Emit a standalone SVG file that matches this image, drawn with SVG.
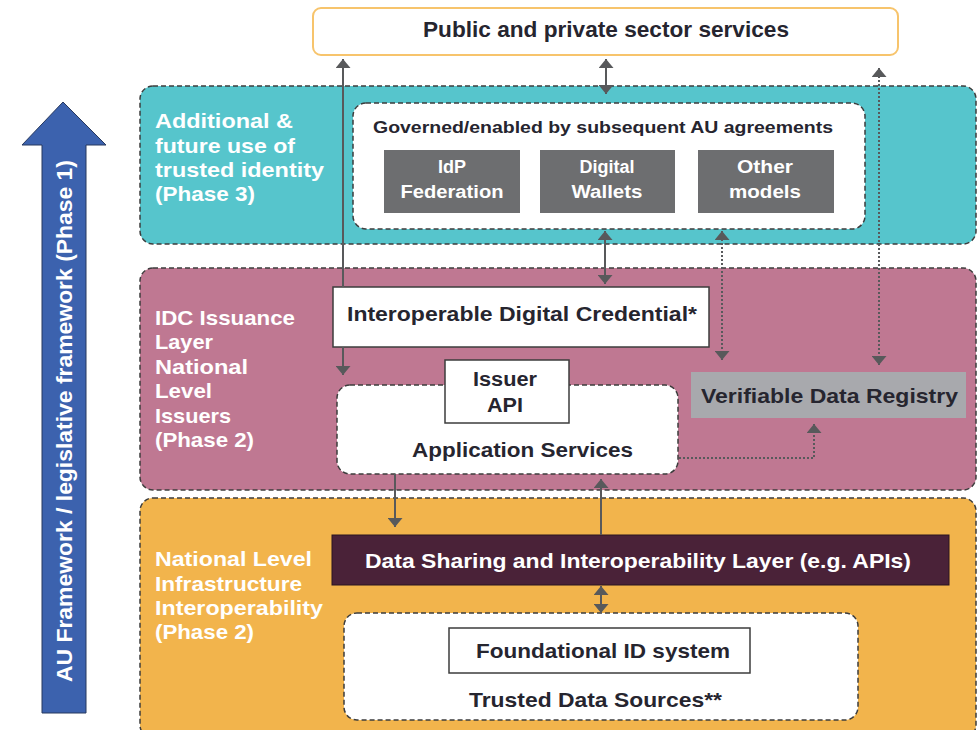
<svg xmlns="http://www.w3.org/2000/svg" width="977" height="730" viewBox="0 0 977 730">
<style>
text{font-family:"Liberation Sans",Arial,sans-serif;font-weight:bold}
.w{fill:#ffffff}
.d{fill:#26252f}
.layer{stroke:#3d3d3d;stroke-width:1.5;stroke-dasharray:5 3}
.inner{fill:#ffffff;stroke:#3d3d3d;stroke-width:1.5;stroke-dasharray:5 3}
.plain{fill:#ffffff;stroke:#3d3d3d;stroke-width:1.5}
.grey{fill:#6d6e70}
.c{stroke:#58595b;stroke-width:2;fill:none}
.dot{stroke:#58595b;stroke-width:2;fill:none;stroke-dasharray:2 2}
</style>
<defs>
<marker id="ah" markerUnits="userSpaceOnUse" markerWidth="9" markerHeight="15" viewBox="0 0 9 15" refX="9" refY="7.5" orient="auto-start-reverse">
<path d="M0,0 L9,7.5 L0,15 z" fill="#58595b"/>
</marker>
</defs>
<rect width="977" height="730" fill="#ffffff"/>

<g id="public-services">
<rect x="313" y="8" width="585" height="47" rx="8" fill="#ffffff" stroke="#f7c46c" stroke-width="2"/>
<text class="d" x="423" y="37" font-size="22" textLength="366" lengthAdjust="spacingAndGlyphs">Public and private sector services</text>
</g>

<g id="au-framework">
<polygon points="63,102 106,145 86,145 86,713 42,713 42,145 22,145" fill="#3c62ae" stroke="#27385e" stroke-width="1"/>
<text class="w" transform="translate(72,682) rotate(-90)" font-size="22" textLength="522" lengthAdjust="spacingAndGlyphs">AU Framework / legislative framework (Phase 1)</text>
</g>

<g id="phase3-layer">
<rect class="layer" x="140" y="86" width="836" height="158" rx="13" fill="#56c5cc"/>
<text class="w" font-size="21">
<tspan x="155" y="128" textLength="138" lengthAdjust="spacingAndGlyphs">Additional &amp;</tspan>
<tspan x="155" y="153" textLength="140" lengthAdjust="spacingAndGlyphs">future use of</tspan>
<tspan x="155" y="177" textLength="169" lengthAdjust="spacingAndGlyphs">trusted identity</tspan>
<tspan x="155" y="201" textLength="100" lengthAdjust="spacingAndGlyphs">(Phase 3)</tspan>
</text>
</g>

<g id="au-agreements">
<rect class="inner" x="353" y="103" width="512" height="126" rx="13"/>
<text class="d" x="373" y="133" font-size="16.5" textLength="460" lengthAdjust="spacingAndGlyphs">Governed/enabled by subsequent AU agreements</text>
</g>

<g id="idp-federation">
<rect class="grey" x="384" y="150" width="136" height="63"/>
<text class="w" font-size="18" text-anchor="middle"><tspan x="452" y="173">IdP</tspan><tspan x="452" y="198" textLength="103" lengthAdjust="spacingAndGlyphs">Federation</tspan></text>
</g>

<g id="digital-wallets">
<rect class="grey" x="540" y="150" width="135" height="63"/>
<text class="w" font-size="18" text-anchor="middle"><tspan x="607" y="173">Digital</tspan><tspan x="607" y="198" textLength="71" lengthAdjust="spacingAndGlyphs">Wallets</tspan></text>
</g>

<g id="other-models">
<rect class="grey" x="698" y="150" width="136" height="63"/>
<text class="w" font-size="18" text-anchor="middle"><tspan x="765" y="173" textLength="56" lengthAdjust="spacingAndGlyphs">Other</tspan><tspan x="765" y="198" textLength="72" lengthAdjust="spacingAndGlyphs">models</tspan></text>
</g>

<g id="phase2-idc-layer">
<rect class="layer" x="140" y="268" width="836" height="222" rx="13" fill="#bf7892"/>
<text class="w" font-size="21">
<tspan x="155" y="325" textLength="140" lengthAdjust="spacingAndGlyphs">IDC Issuance</tspan>
<tspan x="155" y="349" textLength="58" lengthAdjust="spacingAndGlyphs">Layer</tspan>
<tspan x="155" y="374" textLength="93" lengthAdjust="spacingAndGlyphs">National</tspan>
<tspan x="155" y="398" textLength="57" lengthAdjust="spacingAndGlyphs">Level</tspan>
<tspan x="155" y="423" textLength="76" lengthAdjust="spacingAndGlyphs">Issuers</tspan>
<tspan x="155" y="447" textLength="99" lengthAdjust="spacingAndGlyphs">(Phase 2)</tspan>
</text>
</g>

<g id="phase2-infra-layer">
<rect class="layer" x="140" y="498" width="836" height="240" rx="13" fill="#f2b44c"/>
<text class="w" font-size="21">
<tspan x="155" y="566" textLength="157" lengthAdjust="spacingAndGlyphs">National Level</tspan>
<tspan x="155" y="591" textLength="147" lengthAdjust="spacingAndGlyphs">Infrastructure</tspan>
<tspan x="155" y="615" textLength="168" lengthAdjust="spacingAndGlyphs">Interoperability</tspan>
<tspan x="155" y="639" textLength="99" lengthAdjust="spacingAndGlyphs">(Phase 2)</tspan>
</text>
</g>

<g id="idc">
<rect class="plain" x="333" y="287" width="376" height="60"/>
<text class="d" x="347" y="321" font-size="21" textLength="350" lengthAdjust="spacingAndGlyphs">Interoperable Digital Credential*</text>
</g>

<g id="application-services">
<rect class="inner" x="337" y="385" width="341" height="89" rx="13"/>
<text class="d" x="412" y="457" font-size="20" textLength="221" lengthAdjust="spacingAndGlyphs">Application Services</text>
</g>

<g id="issuer-api">
<rect class="plain" x="445" y="360" width="124" height="63"/>
<text class="d" font-size="20" text-anchor="middle"><tspan x="505" y="386" textLength="64" lengthAdjust="spacingAndGlyphs">Issuer</tspan><tspan x="505" y="412" textLength="36" lengthAdjust="spacingAndGlyphs">API</tspan></text>
</g>

<g id="verifiable-data-registry">
<rect x="691" y="372" width="275" height="46" fill="#a8a9ad"/>
<text class="d" x="701" y="403" font-size="21" textLength="257" lengthAdjust="spacingAndGlyphs">Verifiable Data Registry</text>
</g>

<g id="data-sharing-layer">
<rect x="332" y="535" width="617" height="50" fill="#4a2238" stroke="#2a1420" stroke-width="1"/>
<text class="w" x="365" y="568" font-size="21" textLength="546" lengthAdjust="spacingAndGlyphs">Data Sharing and Interoperability Layer (e.g. APIs)</text>
</g>

<g id="trusted-data-sources">
<rect class="inner" x="344" y="613" width="514" height="107" rx="13"/>
<text class="d" x="469" y="707" font-size="21" textLength="253" lengthAdjust="spacingAndGlyphs">Trusted Data Sources**</text>
</g>

<g id="foundational-id">
<rect class="plain" x="449" y="628" width="301" height="45"/>
<text class="d" x="476" y="658" font-size="21" textLength="254" lengthAdjust="spacingAndGlyphs">Foundational ID system</text>
</g>

<g id="connectors">
<line class="c" x1="343" y1="287" x2="343" y2="59" marker-end="url(#ah)"/>
<line class="c" x1="343" y1="347" x2="343" y2="375" marker-end="url(#ah)"/>
<line class="c" x1="606" y1="59" x2="606" y2="94" marker-start="url(#ah)" marker-end="url(#ah)"/>
<line class="c" x1="605" y1="231" x2="605" y2="284" marker-start="url(#ah)" marker-end="url(#ah)"/>
<line class="dot" x1="722" y1="231" x2="722" y2="360" marker-start="url(#ah)" marker-end="url(#ah)"/>
<line class="dot" x1="879" y1="68" x2="879" y2="365" marker-start="url(#ah)" marker-end="url(#ah)"/>
<path class="dot" d="M679,458 H814 V424" marker-end="url(#ah)"/>
<line class="c" x1="395" y1="474" x2="395" y2="527" marker-end="url(#ah)"/>
<line class="c" x1="601" y1="535" x2="601" y2="479" marker-end="url(#ah)"/>
<line class="c" x1="601" y1="586" x2="601" y2="613" marker-start="url(#ah)" marker-end="url(#ah)"/>
</g>
</svg>
